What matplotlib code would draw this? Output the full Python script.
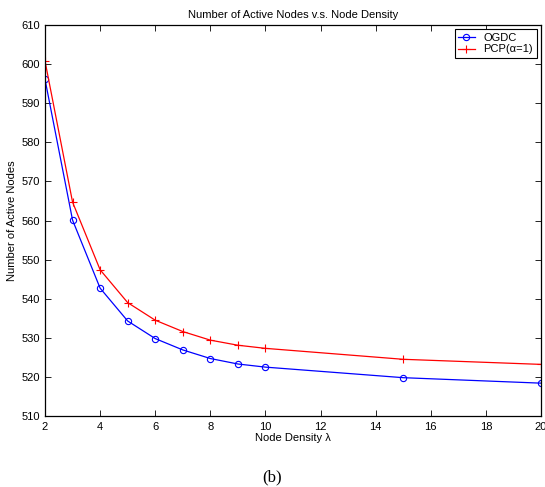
import matplotlib
matplotlib.use("Agg")
import matplotlib.pyplot as plt

density = [2, 3, 4, 5, 6, 7, 8, 9, 10, 15, 20]
ogdc = [596.1, 560.1, 542.7, 534.3, 529.8, 526.9, 524.7, 523.3, 522.5, 519.8, 518.4]
pcp = [600.8, 564.7, 547.4, 539.0, 534.5, 531.6, 529.4, 528.1, 527.3, 524.5, 523.2]
xticks = list(range(2, 21, 2))
yticks = list(range(510, 611, 10))

plt.rcParams['font.family'] = ['Liberation Sans', 'DejaVu Sans']
fig = plt.figure(figsize=(5.45, 4.87), dpi=100)
ax = fig.add_axes([45/545, 1-416/487, (541-45)/545, (416-25)/487])

ax.plot(density, ogdc, color='blue', marker='o', markerfacecolor='none',
        markersize=4.5, linewidth=0.9, markeredgewidth=0.8, label='OGDC')
ax.plot(density, pcp, color='red', marker='+', markersize=5.5,
        linewidth=0.9, markeredgewidth=0.8, label='PCP(α=1)')

ax.set_xlim(2, 20)
ax.set_ylim(510, 610)
ax.set_xticks(xticks)
ax.set_yticks(yticks)
ax.tick_params(direction='in', top=True, right=True, labelsize=8, length=4, width=0.6)
ax.tick_params(axis='x', pad=4)
ax.tick_params(axis='y', pad=3.5)
for s in ax.spines.values():
    s.set_linewidth(0.9)

ax.set_title('Number of Active Nodes v.s. Node Density', fontsize=8, pad=5)
ax.set_xlabel('Node Density λ', fontsize=8, labelpad=1)
ax.set_ylabel('Number of Active Nodes', fontsize=8, labelpad=3)

leg = ax.legend(loc='upper right', fontsize=8, frameon=True, fancybox=False,
                edgecolor='black', framealpha=1, borderaxespad=0.4,
                handlelength=1.5, handletextpad=0.8, borderpad=0.3,
                labelspacing=0.15)
leg.get_frame().set_linewidth(0.8)

fig.text(0.5, 1-477/487, '(b)', ha='center', va='center', fontsize=12,
         family=['Liberation Serif', 'DejaVu Serif'])

fig.savefig('out.png', dpi=100)
